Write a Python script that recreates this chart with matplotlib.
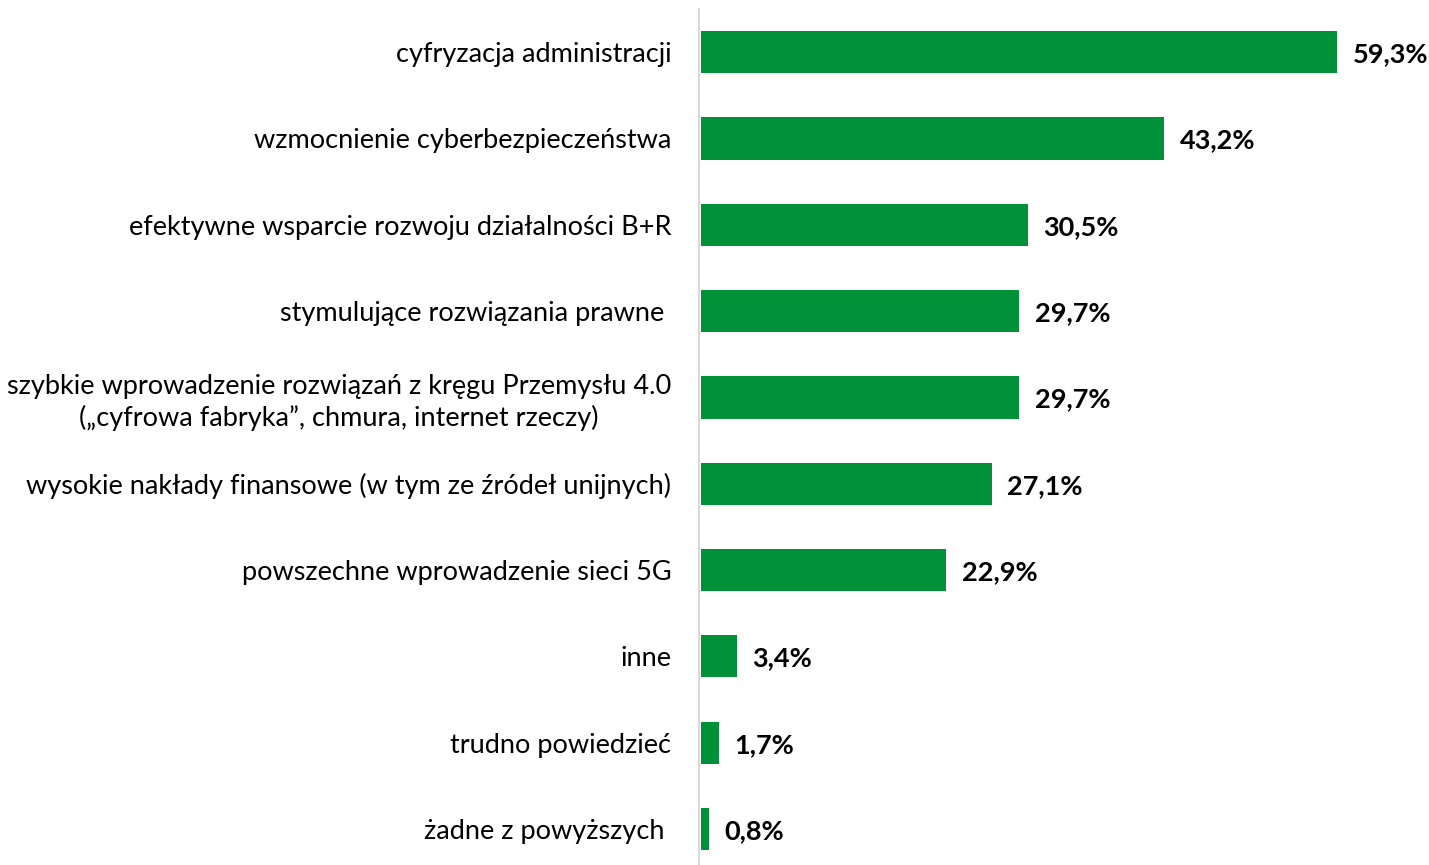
import numpy as np
import matplotlib.pyplot as plt

categories = [
    "cyfryzacja administracji",
    "wzmocnienie cyberbezpieczeństwa",
    "efektywne wsparcie rozwoju działalności B+R",
    "stymulujące rozwiązania prawne ",
    "szybkie wprowadzenie rozwiązań z kręgu Przemysłu 4.0\n(„cyfrowa fabryka”, chmura, internet rzeczy)",
    "wysokie nakłady finansowe (w tym ze źródeł unijnych)",
    "powszechne wprowadzenie sieci 5G",
    "inne",
    "trudno powiedzieć",
    "żadne z powyższych ",
]
values = [59.3, 43.2, 30.5, 29.7, 29.7, 27.1, 22.9, 3.4, 1.7, 0.8]

BAR_COLOR = "#009139"
FONT = ["Lato", "DejaVu Sans"]
FONT_SIZE = 19.5

plt.rcParams["font.family"] = FONT

fig = plt.figure(figsize=(14.29, 8.65), dpi=100)
ax = fig.add_axes([699 / 1429, 0, 1 - 699 / 1429, 1 - 9 / 865])

y = np.arange(len(categories))
ax.barh(y, values, height=0.49, color=BAR_COLOR, left=0.15)

for yi, v in zip(y, values):
    label = f"{v:.1f}%".replace(".", ",")
    ax.annotate(label, xy=(v + 0.15, yi), xytext=(11, -1.5), textcoords="offset points",
                ha="left", va="center", fontsize=19.5, fontweight="bold")

ax.set_xlim(0, 68)
ax.set_ylim((865 - 52) / 86.33, -0.5)

ax.set_yticks(y)
ax.set_yticklabels(categories, fontsize=FONT_SIZE, multialignment="center",
                   linespacing=1.25)
ax.tick_params(axis="y", length=0, pad=20)
ax.set_xticks([])

for side in ["top", "right", "bottom"]:
    ax.spines[side].set_visible(False)
ax.spines["left"].set_color("#D9D9D9")
ax.spines["left"].set_linewidth(1.5)

fig.savefig("out.png", dpi=100)
